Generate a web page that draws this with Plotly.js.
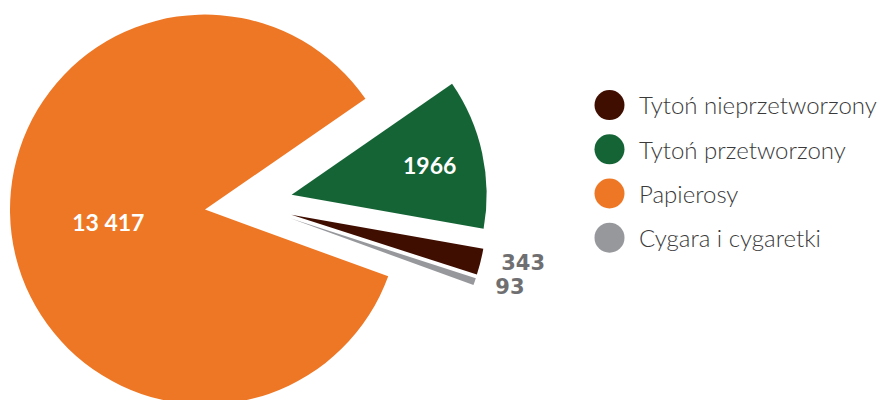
<!DOCTYPE html>
<html>
<head>
<meta charset="utf-8">
<script src="https://cdn.plot.ly/plotly-3.0.1.min.js"></script>
<style>
  html, body { margin: 0; padding: 0; overflow: hidden; background: #ffffff; }
  #chart { position: absolute; left: 0; top: -35px; width: 882px; height: 478px; }
  #chart .textline { display: none; }
</style>
</head>
<body>
<div id="chart"></div>
<script>
// ---- data ----
const categories = ['Tytoń nieprzetworzony', 'Tytoń przetworzony', 'Papierosy', 'Cygara i cygaretki'];
const values = [343, 1966, 13417, 93];
const colors = ['#3f0e00', '#156436', '#ee7725', '#97989c'];
const textPositions = ['outside', 'inside', 'inside', 'outside'];

// Polish number formatting: group thousands with a space only from 5 digits up
function fmtPL(v) {
  const s = String(v);
  return v >= 10000 ? s.replace(/\B(?=(\d{3})+(?!\d))/g, ' ') : s;
}
// outside labels sit a little away from their slices
const sliceText = values.map((v, i) =>
  (textPositions[i] === 'outside' ? '\u00A0\u00A0' : '') + fmtPL(v));

const pieTrace = {
  type: 'pie',
  labels: categories,
  values: values,
  text: sliceText,
  textinfo: 'text',
  textposition: textPositions,
  sort: false,
  direction: 'counterclockwise',
  rotation: 100.1,
  pull: 0.2256,
  marker: { colors: colors, line: { width: 0 } },
  insidetextfont: { family: 'Lato', size: 23, color: '#ffffff', weight: 700 },
  outsidetextfont: { family: 'DejaVu Sans', size: 21, color: '#6f6f71', weight: 700 },
  insidetextorientation: 'horizontal',
  domain: { x: [0, 0.5638], y: [0, 1] },
  showlegend: false,
  hoverinfo: 'label+value'
};

const legendTraces = categories.map((c, i) => ({
  type: 'scatter',
  mode: 'markers',
  x: [null],
  y: [null],
  name: c,
  legendgroup: 'g' + i,
  marker: { color: colors[i], size: 16, symbol: 'circle' },
  hoverinfo: 'skip'
}));

const layout = {
  width: 882,
  height: 478,
  margin: { l: 0, r: 0, t: 0, b: 0 },
  paper_bgcolor: '#ffffff',
  plot_bgcolor: '#ffffff',
  xaxis: { visible: false },
  yaxis: { visible: false },
  showlegend: true,
  legend: {
    x: 580 / 882,
    xanchor: 'left',
    y: 1 - 118 / 478,
    yanchor: 'top',
    font: { family: 'Lato', size: 24, color: '#3a3a3a', weight: 300 },
    tracegroupgap: 10.0,
    itemwidth: 49,
    bgcolor: 'rgba(0,0,0,0)'
  }
};

Plotly.newPlot('chart', [pieTrace].concat(legendTraces), layout, { displayModeBar: false, staticPlot: true })
  .then(function (gd) {
    gd.querySelectorAll('.legend path.scatterpts').forEach(function (p) {
      p.setAttribute('d', 'M15,0A15,15 0 1,1 0,-15A15,15 0 0,1 15,0Z');
      p.style.strokeWidth = '0px';
    });
  });
</script>
</body>
</html>
